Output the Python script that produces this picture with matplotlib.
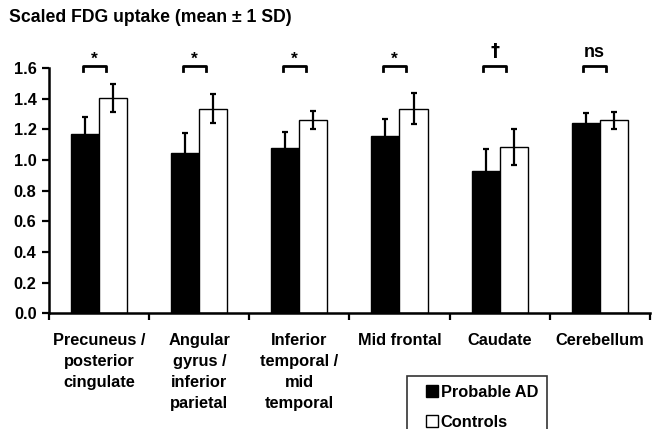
import matplotlib.pyplot as plt
from matplotlib.lines import Line2D
import numpy as np

plt.rcParams['font.family'] = ['Liberation Sans', 'DejaVu Sans']
plt.rcParams['font.weight'] = 'bold'

regions = ['Precuneus /\nposterior\ncingulate', 'Angular\ngyrus /\ninferior\nparietal',
           'Inferior\ntemporal /\nmid\ntemporal', 'Mid frontal', 'Caudate', 'Cerebellum']
ad_mean = [1.17, 1.045, 1.08, 1.155, 0.93, 1.245]
ad_sd = [0.11, 0.135, 0.105, 0.115, 0.145, 0.065]
ctl_mean = [1.405, 1.335, 1.26, 1.335, 1.085, 1.26]
ctl_sd = [0.09, 0.095, 0.06, 0.10, 0.12, 0.055]
signif = ['*', '*', '*', '*', '\u2020', 'ns']


def plot_bars(ax):
    x = np.arange(len(regions))
    w = 0.28
    ekw = dict(ecolor='black', elinewidth=1.6, capsize=2.5, capthick=1.6)
    ax.bar(x - w / 2, ad_mean, w, yerr=ad_sd, color='black', edgecolor='black',
           linewidth=1, error_kw=ekw, label='Probable AD', zorder=2)
    ax.bar(x + w / 2, ctl_mean, w, yerr=ctl_sd, color='white', edgecolor='black',
           linewidth=1, error_kw=ekw, label='Controls', zorder=2)

    # significance brackets above each pair
    for i, s in enumerate(signif):
        c = i - 0.05
        ax.plot([c - 0.115, c - 0.115, c + 0.115, c + 0.115], [1.585, 1.615, 1.615, 1.585],
                color='black', lw=2, clip_on=False, solid_joinstyle='round')
        if s == '*':
            ax.text(c, 1.66, s, ha='center', va='center', fontsize=12.5, fontweight='bold')
        elif s == 'ns':
            ax.text(c, 1.705, s, ha='center', va='center', fontsize=13, fontweight='bold')
        else:
            ax.text(c, 1.71, s, ha='center', va='center', fontsize=13, fontweight='bold',
                    family='DejaVu Sans')

    ax.set_xlim(-0.5, len(regions) - 0.5)
    ax.set_ylim(0, 1.6)
    ax.set_yticks(np.arange(0, 1.61, 0.2))
    ax.set_yticklabels(['%.1f' % v for v in np.arange(0, 1.61, 0.2)], fontsize=11.8,
                       fontweight='bold')
    ax.set_xticks(np.arange(-0.5, len(regions)), [''] * (len(regions) + 1))
    ax.set_xticks(x, regions, minor=True, fontsize=11.8, fontweight='bold',
                  linespacing=1.5, va='top')
    ax.tick_params(axis='x', which='minor', length=0, pad=14)
    ax.tick_params(axis='both', which='major', length=5, width=1.6, direction='out')
    ax.tick_params(axis='y', pad=4)
    for side in ['top', 'right']:
        ax.spines[side].set_visible(False)
    for side in ['left', 'bottom']:
        ax.spines[side].set_linewidth(1.8)


fig = plt.figure(figsize=(6.55, 4.29), dpi=100)
ax = fig.add_axes([0.075, 0.27, 0.917, 0.571])
plot_bars(ax)

fig.text(0.014, 1 - 18 / 429, 'Scaled FDG uptake (mean \u00b1 1 SD)', fontsize=12.7,
         fontweight='bold', va='center')

handles = [Line2D([], [], ls='none', marker='s', markersize=8, markerfacecolor='black',
                  markeredgecolor='black', markeredgewidth=1),
           Line2D([], [], ls='none', marker='s', markersize=8, markerfacecolor='white',
                  markeredgecolor='black', markeredgewidth=1)]
leg = fig.legend(handles, ['Probable AD', 'Controls'], loc='upper left',
                 bbox_to_anchor=(407 / 655, 1 - 376 / 429), frameon=True, fancybox=False,
                 edgecolor='black', fontsize=11.8, handlelength=1.9, handletextpad=-0.4,
                 labelspacing=0.9, borderpad=0.55, borderaxespad=0)
leg.get_frame().set_linewidth(1.2)
for t in leg.get_texts():
    t.set_fontweight('bold')

fig.savefig('out.png', dpi=100)
